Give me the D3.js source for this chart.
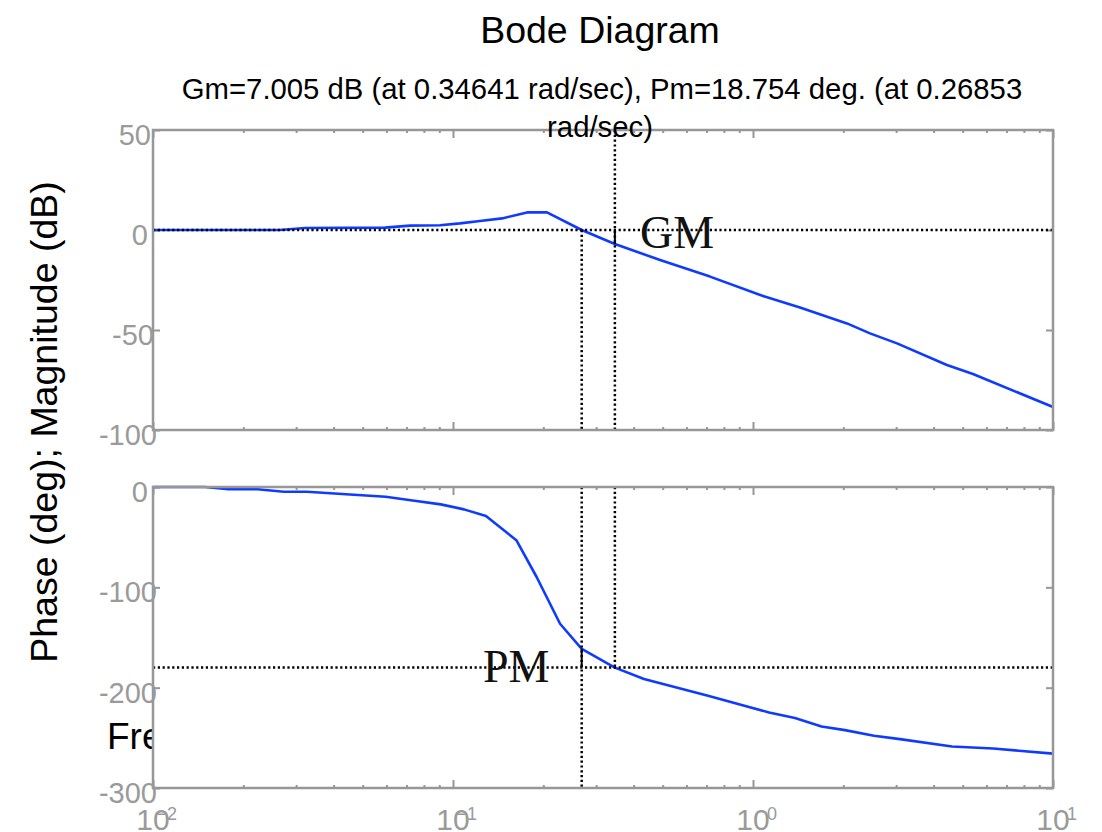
<!DOCTYPE html>
<meta charset="utf-8">
<style>
  body { margin: 0; background: #fff; }
  text { font-family: "Liberation Sans", Arial, sans-serif; }
  .frame { fill: none; stroke: #979797; stroke-width: 2.5; }
  .tick line { stroke: #979797; stroke-width: 2; }
  .domain { display: none; }
  .ticklab { fill: #9a9a9a; font-size: 29px; }
  .dots { stroke: #000; stroke-width: 2.5; stroke-dasharray: 2.2,2.6; fill: none; }
  .curve { fill: none; stroke: #0f3bff; stroke-width: 2.6; stroke-linejoin: round; }
  .mtxt { font-family: "Liberation Serif", "Times New Roman", serif; font-size: 46px; fill: #111; }
</style>
<script src="https://cdn.jsdelivr.net/npm/d3@7"></script>
<svg width="1102" height="832"></svg>
<script>
// (rad/sec, dB, deg)
var magFreq  = [0.01, 0.0265, 0.0321, 0.0593, 0.0719, 0.0905, 0.1055, 0.123, 0.1457, 0.1765, 0.2057,
                0.26853, 0.34641, 0.49, 0.719, 1.08, 1.434, 2.057, 2.455, 3.02, 4.43, 5.41, 10];
var magDb    = [0, 0, 1, 1.2, 2.2, 2.4, 3.3, 4.5, 5.8, 8.8, 8.8,
                0, -7.005, -15, -23.3, -33, -38.7, -46.7, -51.7, -56.7, -67.5, -72, -88.5];
var phaseFreq = [0.01, 0.0149, 0.01785, 0.0223, 0.0273, 0.0326, 0.0427, 0.0596, 0.0744, 0.091, 0.1088,
                 0.1288, 0.1626, 0.19, 0.2274, 0.26853, 0.34641, 0.4331, 0.708, 1.131, 1.38, 1.692,
                 2.026, 2.531, 3.09, 4.606, 6.31, 10];
var phaseDeg  = [0, 0, -2.3, -2.3, -4.7, -4.7, -7, -9.7, -13.7, -17.3, -22.3,
                 -29, -53, -89.7, -136.3, -161.25, -180, -191.3, -208, -224.7, -230.3, -238.7,
                 -242.3, -248, -251.3, -258.7, -260.7, -265.7];
var magTicks   = [50, 0, -50, -100];
var phaseTicks = [0, -100, -200, -300];
var decades    = [0.01, 0.1, 1, 10];
var decadeExp  = ["\u22122", "\u22121", "0", "1"];
var gm = 7.005, wGm = 0.34641, pm = 18.754, wPm = 0.26853;

var svg = d3.select("svg");
var left = 153, right = 1053;
var x = d3.scaleLog().domain([0.01, 10]).range([left, right]);
var yMag = d3.scaleLinear().domain([-100, 50]).range([430, 130]);
var yPh  = d3.scaleLinear().domain([-300, 0]).range([788, 487]);

// titles
svg.append("text").attr("x", 600).attr("y", 43).attr("text-anchor", "middle")
  .style("font-size", "37.5px").text("Bode Diagram");
// x label, hidden behind the lower axes like in the original
svg.append("text").attr("x", 107).attr("y", 749).style("font-size", "37px")
  .text("Frequency (rad/sec)");
svg.append("text").attr("transform", "translate(57,422) rotate(-90)").attr("text-anchor", "middle")
  .style("font-size", "37.5px").text("Phase (deg); Magnitude (dB)");

function panel(y, ticks, lineData, lineY) {
  var g = svg.append("g");
  var y0 = y.range()[1], y1 = y.range()[0];
  g.append("rect").attr("x", left).attr("y", y0).attr("width", right - left).attr("height", y1 - y0)
    .attr("fill", "#fff");

  // minor + major x ticks, top and bottom
  var minor = x.ticks().filter(function(v) { return decades.indexOf(v) < 0; });
  [[d3.axisBottom, y1], [d3.axisTop, y0]].forEach(function(a) {
    g.append("g").attr("transform", "translate(0," + a[1] + ")")
      .call(a[0](x).tickValues(minor).tickSize(-3).tickFormat(""));
    g.append("g").attr("transform", "translate(0," + a[1] + ")")
      .call(a[0](x).tickValues(decades).tickSize(-8).tickFormat(""));
  });
  g.append("g").attr("transform", "translate(" + left + ",0)")
    .call(d3.axisLeft(y).tickValues(ticks).tickSize(-7).tickFormat(""));
  g.append("g").attr("transform", "translate(" + right + ",0)")
    .call(d3.axisRight(y).tickValues(ticks).tickSize(-7).tickFormat(""));

  g.append("path").datum(d3.range(lineData.length))
    .attr("class", "curve")
    .attr("d", d3.line().x(function(i) { return x(lineData[i]); })
                        .y(function(i) { return y(lineY[i]); }));
  return g;
}

var gTop = panel(yMag, magTicks, magFreq, magDb);
var gBot = panel(yPh, phaseTicks, phaseFreq, phaseDeg);

// margin markers
function dotted(g, x1, y1, x2, y2) {
  g.append("line").attr("class", "dots")
    .attr("x1", x1).attr("y1", y1).attr("x2", x2).attr("y2", y2);
}
dotted(gTop, left, yMag(0), right, yMag(0));
dotted(gTop, x(wGm), yMag(50), x(wGm), yMag(-100));
dotted(gTop, x(wPm), yMag(0), x(wPm), yMag(-100));
gTop.append("line").attr("stroke", "#000").attr("stroke-width", 2)
  .attr("x1", x(wGm)).attr("x2", x(wGm)).attr("y1", yMag(0)).attr("y2", yMag(-gm));
dotted(gBot, left, yPh(-180), right, yPh(-180));
dotted(gBot, x(wPm), yPh(0), x(wPm), yPh(-300));
dotted(gBot, x(wGm), yPh(0), x(wGm), yPh(-180));
gBot.append("line").attr("stroke", "#000").attr("stroke-width", 2)
  .attr("x1", x(wPm)).attr("x2", x(wPm)).attr("y1", yPh(-180)).attr("y2", yPh(-180 + pm));
gTop.append("text").attr("class", "mtxt").attr("x", 640).attr("y", 248).text("GM");
gBot.append("text").attr("class", "mtxt").attr("x", 483).attr("y", 682).text("PM");

// frames
[yMag, yPh].forEach(function(y) {
  svg.append("rect").attr("class", "frame")
    .attr("x", left).attr("y", y.range()[1])
    .attr("width", right - left).attr("height", y.range()[0] - y.range()[1]);
});

// tick labels
function yLabels(y, ticks) {
  svg.selectAll(null).data(ticks).enter().append("text")
    .attr("class", "ticklab").attr("text-anchor", "end")
    .attr("x", function(d) { return 145 + 3 * String(d).length; })
    .attr("y", function(d) { return y(d) + 15; })
    .text(function(d) { return d; });
}
yLabels(yMag, magTicks);
yLabels(yPh, phaseTicks);

var xl = svg.selectAll(null).data(decades).enter().append("g");
xl.append("text").attr("class", "ticklab").attr("text-anchor", "middle")
  .attr("x", function(d) { return x(d); }).attr("y", 830).style("font-size", "30px").text("10");
xl.append("text").attr("class", "ticklab").attr("text-anchor", "end")
  .attr("x", function(d) { return x(d) + 24; }).attr("y", 820).style("font-size", "18px")
  .text(function(d, i) { return decadeExp[i]; });

// subtitle sits over the top frame
svg.append("text").attr("x", 602).attr("y", 99).attr("text-anchor", "middle")
  .style("font-size", "29.3px")
  .text("Gm=7.005 dB (at 0.34641 rad/sec), Pm=18.754 deg. (at 0.26853");
svg.append("text").attr("x", 600).attr("y", 137).attr("text-anchor", "middle")
  .style("font-size", "29.3px").text("rad/sec)");
</script>
